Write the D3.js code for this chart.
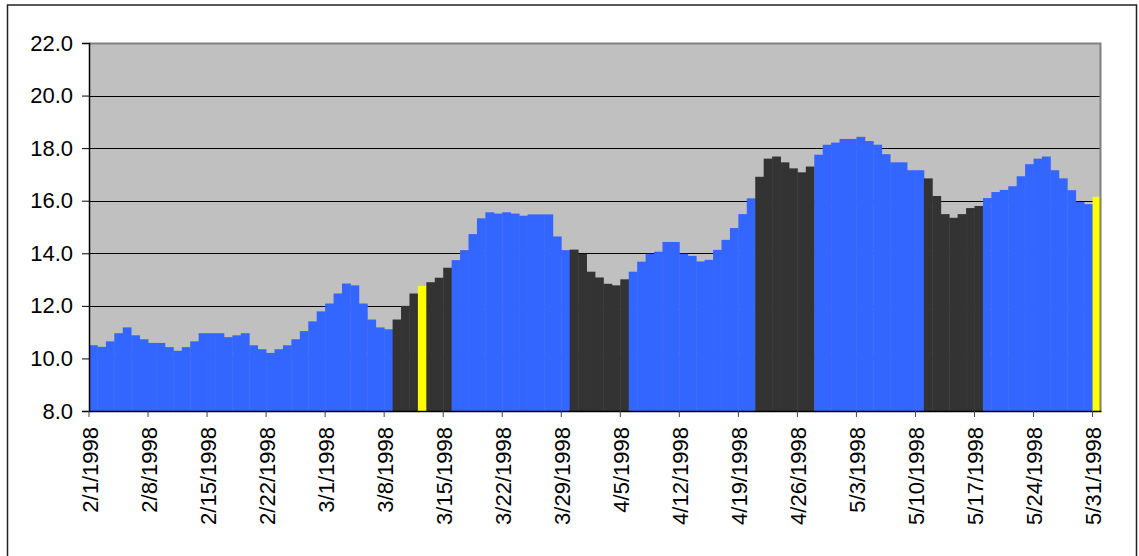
<!DOCTYPE html>
<html>
<head>
<meta charset="utf-8">
<script src="https://cdn.jsdelivr.net/npm/d3@7"></script>
<style>
  html, body { margin: 0; padding: 0; background: #fff; }
  svg { display: block; }
  text { font-family: Arial, "Liberation Sans", sans-serif; fill: #000; }
</style>
</head>
<body>
<svg id="chart" width="1139" height="556"></svg>
<script>
// ---- data ----
const startDate = "1998-02-01";
const dayCount = 120;
const values = [
  10.50, 10.44, 10.65, 10.96, 11.18, 10.88, 10.73, 10.59, 10.59, 10.43,
  10.29, 10.43, 10.65, 10.96, 10.96, 10.96, 10.81, 10.88, 10.96, 10.50,
  10.35, 10.21, 10.35, 10.50, 10.73, 11.04, 11.41, 11.79, 12.09, 12.47,
  12.85, 12.78, 12.09, 11.48, 11.18, 11.11, 11.48, 12.00, 12.47, 12.76,
  12.90, 13.07, 13.45, 13.74, 14.12, 14.73, 15.33, 15.56, 15.51, 15.56,
  15.51, 15.43, 15.48, 15.48, 15.48, 14.64, 14.12, 14.14, 13.98, 13.30,
  13.08, 12.84, 12.78, 13.01, 13.30, 13.68, 13.98, 14.06, 14.43, 14.43,
  13.98, 13.90, 13.69, 13.75, 14.13, 14.51, 14.96, 15.49, 16.09, 16.91,
  17.60, 17.68, 17.46, 17.23, 17.08, 17.30, 17.75, 18.13, 18.21, 18.35,
  18.35, 18.43, 18.27, 18.13, 17.77, 17.46, 17.46, 17.16, 17.16, 16.85,
  16.18, 15.49, 15.35, 15.49, 15.72, 15.80, 16.10, 16.33, 16.41, 16.55,
  16.93, 17.39, 17.60, 17.68, 17.16, 16.85, 16.40, 15.95, 15.87, 16.15
];
// highlighted periods (dark bars), inclusive date ranges
const darkRanges = [
  ["3/9/1998", "3/15/1998"],
  ["3/30/1998", "4/5/1998"],
  ["4/21/1998", "4/27/1998"],
  ["5/11/1998", "5/17/1998"]
];
const yellowDates = ["3/12/1998", "5/31/1998"];
const yTicks = [8, 10, 12, 14, 16, 18, 20, 22];
const xTickLabels = ["2/1/1998","2/8/1998","2/15/1998","2/22/1998","3/1/1998","3/8/1998",
  "3/15/1998","3/22/1998","3/29/1998","4/5/1998","4/12/1998","4/19/1998","4/26/1998",
  "5/3/1998","5/10/1998","5/17/1998","5/24/1998","5/31/1998"];
const colorBlue = "#3366FF", colorDark = "#333333", colorYellow = "#FFFF00";

// ---- categories ----
const fmt = d => (d.getMonth() + 1) + "/" + d.getDate() + "/" + d.getFullYear();
const parse = d3.timeParse("%Y-%m-%d");
const parseMDY = d3.timeParse("%m/%d/%Y");
const start = parse(startDate);
const dates = d3.timeDay.range(start, d3.timeDay.offset(start, dayCount));
const categories = dates.map(fmt);

function colorFor(i) {
  const c = categories[i];
  if (yellowDates.includes(c)) return colorYellow;
  const t = dates[i].getTime();
  for (const [a, b] of darkRanges) {
    if (t >= parseMDY(a).getTime() && t <= parseMDY(b).getTime()) return colorDark;
  }
  return colorBlue;
}

// ---- layout ----
const plotL = 89, plotR = 1101, plotT = 43, plotB = 411;
const svg = d3.select("#chart");

// outer frame
svg.append("rect").attr("x", 7.5).attr("y", 5).attr("width", 1129).attr("height", 700)
  .attr("fill", "none").attr("stroke", "#222").attr("stroke-width", 1.5);

const x = d3.scaleBand().domain(categories).range([plotL, plotR]).padding(0);
const y = d3.scaleLinear().domain([8, 22]).range([plotB, plotT]);

// plot background
svg.append("rect").attr("x", plotL).attr("y", plotT).attr("width", plotR - plotL).attr("height", plotB - plotT)
  .attr("fill", "#C0C0C0");

// gridlines
svg.append("g").selectAll("line").data(yTicks.filter(t => t > 8 && t < 22)).join("line")
  .attr("x1", plotL).attr("x2", plotR)
  .attr("y1", d => Math.round(y(d)) + 0.5).attr("y2", d => Math.round(y(d)) + 0.5)
  .attr("stroke", "#000").attr("stroke-width", 1);

// bars
svg.append("g").selectAll("rect").data(values).join("rect")
  .attr("x", (d, i) => x(categories[i]))
  .attr("width", x.bandwidth() + 0.4)
  .attr("y", d => y(d))
  .attr("height", d => plotB - y(d))
  .attr("fill", (d, i) => colorFor(i));

// plot border (top/right)
svg.append("path")
  .attr("d", `M${plotL},${plotT + 0.5}H${plotR - 0.5}V${plotB}`)
  .attr("fill", "none").attr("stroke", "#808080").attr("stroke-width", 2);

// y axis
const yAxis = svg.append("g").attr("transform", `translate(${plotL},0)`)
  .call(d3.axisLeft(y).tickValues(yTicks).tickFormat(d3.format(".1f")).tickSize(7).tickPadding(9));
yAxis.select(".domain").attr("stroke", "#000").attr("stroke-width", 1.5);
yAxis.selectAll(".tick line").attr("stroke", "#000");
yAxis.selectAll("text").style("font-size", "22px").attr("fill", "#000");

// x axis
const xAxis = svg.append("g").attr("transform", `translate(0,${plotB})`)
  .call(d3.axisBottom(x).tickValues(xTickLabels).tickSize(6).tickSizeOuter(0));
xAxis.selectAll(".tick").attr("transform", d => `translate(${x(d)},0)`);
xAxis.select(".domain").attr("stroke", "#000").attr("stroke-width", 1.5);
xAxis.selectAll(".tick line").attr("stroke", "#444");
xAxis.selectAll(".tick text")
  .style("font-size", "22px")
  .attr("fill", "#000")
  .attr("text-anchor", "end")
  .attr("dy", null)
  .attr("dominant-baseline", "central")
  .attr("transform", "translate(1,16) rotate(-90)")
  .attr("x", 0).attr("y", 0);
</script>
</body>
</html>
